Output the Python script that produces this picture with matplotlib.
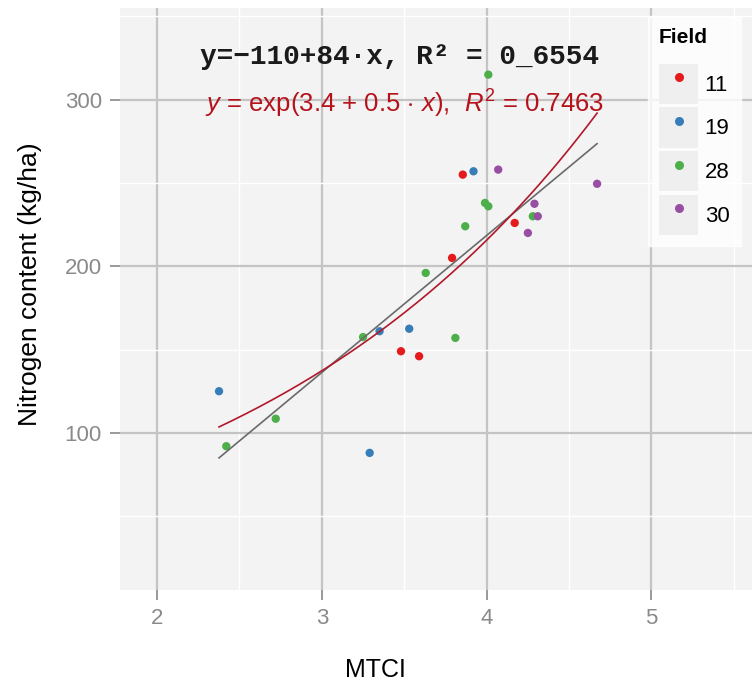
import matplotlib
matplotlib.use("Agg")
import matplotlib.pyplot as plt
from matplotlib.lines import Line2D
from matplotlib.patches import Rectangle
from matplotlib.legend_handler import HandlerTuple
from matplotlib.ticker import MultipleLocator
import numpy as np

# --- Plot Config ---
plt.rcParams.update({
    "font.family": "Liberation Sans",
    "mathtext.fontset": "custom",
    "mathtext.rm": "Liberation Sans",
    "mathtext.it": "Liberation Sans:italic",
    "mathtext.bf": "Liberation Sans:bold",
})

# --- Data ---
fields = ["11", "19", "28", "30"]
colors = ["#E41A1C", "#377EB8", "#4DAF4A", "#984EA3"]

mtci_11 = [3.855, 4.17, 3.79, 3.48, 3.59]
nitro_11 = [255, 226, 205, 149, 146]

mtci_19 = [3.92, 3.53, 3.35, 2.376, 3.29]
nitro_19 = [257, 162.5, 161, 125, 88]

mtci_28 = [4.01, 3.99, 4.01, 3.87, 3.63, 4.28, 3.25, 3.81, 2.72, 2.42]
nitro_28 = [315, 238, 236, 224, 196, 230, 157.5, 157, 108.5, 92]

mtci_30 = [4.07, 4.67, 4.29, 4.31, 4.25]
nitro_30 = [258, 249.5, 237.5, 230, 220]

mtci = [mtci_11, mtci_19, mtci_28, mtci_30]
nitro = [nitro_11, nitro_19, nitro_28, nitro_30]

# fitted curves as drawn in the picture
lin_coef = (-110.3, 82.2)      # y = a + b*x
exp_coef = (3.567, 0.4517)     # y = exp(a + b*x)

# --- Create figure and axis ---
fig = plt.figure(figsize=(7.52, 6.87), dpi=100)
ax = fig.add_axes([120 / 752, 1 - 590 / 687, 632 / 752, 582 / 687])

ax.set_facecolor("#F3F3F3")
for s in ax.spines.values():
    s.set_visible(False)

ax.set_xlim(1.775, 5.61)
ax.set_ylim(5.7, 355)

ax.xaxis.set_major_locator(MultipleLocator(1))
ax.xaxis.set_minor_locator(MultipleLocator(0.5))
ax.yaxis.set_major_locator(MultipleLocator(100))
ax.yaxis.set_minor_locator(MultipleLocator(50))
ax.set_yticks([100, 200, 300])

ax.grid(which="major", color="#C4C4C4", linewidth=1.6)
ax.grid(which="minor", color="white", linewidth=1.0)
ax.set_axisbelow(True)

ax.tick_params(which="major", length=7, width=1.4, color="#9A9A9A",
               labelcolor="#8A8A8A", labelsize=16, pad=6, direction="out")
ax.tick_params(which="minor", length=0)

# --- Points ---
for xs, ys, c in zip(mtci, nitro, colors):
    ax.scatter(xs, ys, s=36, color=c, edgecolors="none", zorder=3)

# --- Fit lines ---
all_x = np.concatenate([np.array(v) for v in mtci])
xx = np.linspace(all_x.min(), all_x.max(), 200)
ax.plot(xx, lin_coef[0] + lin_coef[1] * xx, color="#6A6A6A", linewidth=1.2, zorder=4)
ax.plot(xx, np.exp(exp_coef[0] + exp_coef[1] * xx), color="#B2182B", linewidth=1.2, zorder=4)

# --- Equations ---
ax.text((400 - 120) / 632, 0.916, "y=\u2212110+84\u00b7x, R\u00b2 = 0_6554", transform=ax.transAxes,
        ha="center", va="center", fontsize=20, fontweight="bold",
        family="Liberation Mono", color="#1A1A1A", zorder=5)
ax.text((405 - 120) / 632, 0.836, r"$y$ = exp(3.4 + 0.5 $\cdot$ $x$),  $R^2$ = 0.7463",
        transform=ax.transAxes, ha="center", va="center", fontsize=18.5,
        color="#B5121B", zorder=5)

# --- Labels ---
ax.set_xlabel("MTCI", fontsize=18)
ax.xaxis.set_label_coords((375 - 120) / 632, -(658 - 590) / 582)
ax.set_ylabel("Nitrogen content (kg/ha)", fontsize=19)
ax.yaxis.set_label_coords(-(120 - 42) / 632, (590 - 284) / 582)

# --- Legend ---
handles = [(Rectangle((0, 0), 1, 1, facecolor="#EFEFEF", edgecolor="none"),
            Line2D([], [], marker="o", linestyle="none", markersize=6.5,
                   markerfacecolor=c, markeredgecolor="none"))
           for c in colors]
leg = fig.legend(handles, fields, title="Field", loc="upper left",
                 bbox_to_anchor=(648 / 752, 1 - 17 / 687), borderaxespad=0,
                 handler_map={tuple: HandlerTuple(ndivide=1, pad=0)},
                 handlelength=1.75, handleheight=2.4, handletextpad=0.3,
                 labelspacing=0.16, fontsize=16, title_fontsize=15,
                 frameon=True, fancybox=False, borderpad=0.5,
                 alignment="left")
leg._legend_box.sep = 12  # a bit more room between title and keys
leg.get_frame().set_facecolor("white")
leg.get_frame().set_edgecolor("white")
leg.get_title().set_fontweight("bold")

# --- Save figure ---
fig.savefig("out.png", dpi=100)
